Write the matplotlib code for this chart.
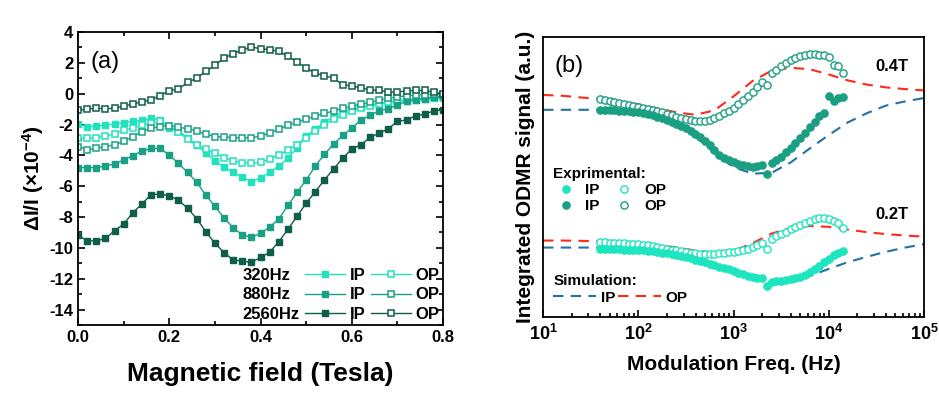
import matplotlib
matplotlib.use('Agg')
import matplotlib.pyplot as plt
from matplotlib.lines import Line2D
from matplotlib.ticker import MultipleLocator, LogLocator, NullFormatter, FixedLocator, FixedFormatter

plt.rcParams['font.family'] = ['Liberation Sans', 'DejaVu Sans']
plt.rcParams['mathtext.fontset'] = 'custom'
plt.rcParams['mathtext.rm'] = 'Liberation Sans:bold'
plt.rcParams['mathtext.bf'] = 'Liberation Sans:bold'
plt.rcParams['mathtext.it'] = 'Liberation Sans:bold:italic'
plt.rcParams['axes.unicode_minus'] = False

# ---- panel (a): dI/I vs field ----
field = [0.00, 0.02, 0.04, 0.06, 0.08, 0.10, 0.12, 0.14, 0.16, 0.18, 0.20,
         0.22, 0.24, 0.26, 0.28, 0.30, 0.32, 0.34, 0.36, 0.38, 0.40,
         0.42, 0.44, 0.46, 0.48, 0.50, 0.52, 0.54, 0.56, 0.58, 0.60,
         0.62, 0.64, 0.66, 0.68, 0.70, 0.72, 0.74, 0.76, 0.78, 0.80]

ip_320 = [-1.98, -2.15, -2.10, -2.05, -1.97, -1.88, -1.80, -1.72, -1.60, -1.70, -2.20,
          -2.40, -2.85, -3.35, -3.85, -4.35, -4.75, -5.10, -5.40, -5.72, -5.45,
          -5.10, -4.70, -4.20, -3.50, -2.75, -2.30, -1.85, -1.50, -1.20, -1.00,
          -0.87, -0.75, -0.65, -0.57, -0.50, -0.45, -0.40, -0.35, -0.30, -0.27]
op_320 = [-2.87, -2.90, -2.85, -2.75, -2.60, -2.38, -2.22, -2.05, -1.90, -1.80, -2.10,
          -2.50, -2.95, -3.35, -3.60, -3.85, -4.15, -4.38, -4.47, -4.50, -4.45,
          -4.25, -3.98, -3.65, -3.30, -2.85, -2.40, -2.00, -1.65, -1.40, -1.15,
          -0.95, -0.80, -0.65, -0.55, -0.45, -0.40, -0.35, -0.30, -0.25, -0.22]
ip_880 = [-4.79, -4.79, -4.79, -4.69, -4.56, -4.30, -4.02, -3.72, -3.55, -3.55, -3.98,
          -4.52, -5.10, -5.75, -6.57, -7.30, -8.05, -8.70, -9.15, -9.32, -9.06,
          -8.65, -8.13, -7.25, -6.40, -5.60, -4.70, -3.93, -3.28, -2.71, -2.24,
          -1.70, -1.41, -1.11, -0.98, -0.72, -0.50, -0.40, -0.33, -0.24, -0.18]
op_880 = [-3.43, -3.65, -3.54, -3.43, -3.32, -3.10, -2.78, -2.46, -2.24, -2.13, -2.07,
          -2.17, -2.28, -2.41, -2.63, -2.78, -2.80, -2.85, -2.89, -2.85, -2.75,
          -2.55, -2.30, -2.05, -1.85, -1.65, -1.45, -1.28, -1.12, -0.96, -0.80,
          -0.68, -0.55, -0.42, -0.30, -0.20, -0.14, -0.10, -0.06, -0.04, -0.05]
ip_2560 = [-9.17, -9.54, -9.54, -9.39, -8.89, -8.45, -7.72, -7.15, -6.55, -6.50, -6.63,
           -6.90, -7.43, -8.10, -8.95, -9.70, -10.30, -10.79, -10.85, -10.94, -10.62,
           -10.28, -9.60, -8.80, -7.95, -7.11, -6.35, -5.60, -4.88, -4.19, -3.58,
           -3.32, -2.84, -2.56, -2.28, -1.80, -1.70, -1.44, -1.33, -1.11, -1.05]
op_2560 = [-1.09, -1.00, -0.94, -0.98, -0.94, -0.81, -0.67, -0.53, -0.40, -0.13, 0.20,
           0.30, 0.73, 1.01, 1.44, 1.83, 2.31, 2.59, 2.85, 3.02, 2.92,
           2.85, 2.74, 2.42, 2.07, 1.66, 1.34, 1.16, 1.01, 0.58, 0.51,
           0.36, 0.25, 0.21, 0.10, 0.10, 0.19, 0.21, 0.21, 0.10, -0.01]

freq_labels = ['320Hz', '880Hz', '2560Hz']
c_320, c_880, c_2560 = '#22e2bd', '#1aa185', '#0e5e49'

# ---- panel (b): integrated ODMR vs modulation frequency ----
freq_exp = [40, 45, 50, 56, 63, 71, 79, 89,
            100, 112, 126, 141, 158, 178, 200, 224, 251, 282,
            316, 355, 398, 447, 501, 562, 631, 708, 794, 891,
            1000, 1122, 1259, 1413, 1585, 1778, 1995, 2239, 2512, 2818,
            3162, 3548, 3981, 4467, 5012, 5623, 6310, 7079, 7943, 8913,
            10000, 11220, 12589, 14125]

ip_04 = [7.39, 7.39, 7.38, 7.38, 7.37, 7.36, 7.35, 7.33,
         7.31, 7.28, 7.25, 7.20, 7.15, 7.10, 7.04, 6.98, 6.90, 6.82,
         6.75, 6.66, 6.55, 6.42, 6.30, 6.15, 5.98, 5.80, 5.68, 5.60,
         5.52, 5.47, 5.42, 5.40, 5.37, 5.38, 5.42, 5.11, 5.51, 5.60,
         5.72, 5.88, 6.05, 6.22, 6.40, 6.58, 6.78, 6.97, 7.18, 7.30,
         7.90, 7.72, 7.81, 7.87]
op_04 = [7.78, 7.74, 7.71, 7.68, 7.65, 7.61, 7.57, 7.53,
         7.49, 7.46, 7.42, 7.39, 7.35, 7.31, 7.26, 7.20, 7.15, 7.10,
         7.06, 7.03, 7.00, 6.99, 7.01, 7.05, 7.11, 7.19, 7.27, 7.36,
         7.46, 7.60, 7.75, 7.90, 8.04, 8.20, 8.38, 8.30, 8.70, 8.82,
         8.97, 9.08, 9.17, 9.25, 9.31, 9.35, 9.38, 9.38, 9.37, 9.35,
         9.30, 9.00, 8.98, 8.72]
ip_02 = [2.44, 2.43, 2.43, 2.42, 2.42, 2.41, 2.41, 2.40,
         2.39, 2.38, 2.36, 2.34, 2.32, 2.30, 2.27, 2.24, 2.21, 2.17,
         2.13, 2.09, 2.05, 2.00, 1.95, 1.90, 1.85, 1.80, 1.75, 1.70,
         1.64, 1.58, 1.52, 1.47, 1.42, 1.40, 1.38, 1.11, 1.25, 1.27,
         1.29, 1.31, 1.34, 1.38, 1.43, 1.50, 1.60, 1.70, 1.83, 1.95,
         2.07, 2.20, 2.30, 2.36]
op_02 = [2.67, 2.69, 2.66, 2.65, 2.64, 2.63, 2.62, 2.61,
         2.60, 2.58, 2.56, 2.53, 2.50, 2.47, 2.44, 2.41, 2.38, 2.35,
         2.32, 2.29, 2.27, 2.25, 2.24, 2.24, 2.25, 2.27, 2.29, 2.31,
         2.33, 2.35, 2.39, 2.44, 2.50, 2.57, 2.66, 2.43, 2.80, 2.88,
         2.97, 3.05, 3.14, 3.22, 3.30, 3.37, 3.44, 3.50, 3.52, 3.52,
         3.50, 3.42, 3.34, 3.18]

freq_sim = [10, 16, 25, 40, 63, 100, 158, 251, 398, 631, 1000,
            1585, 2512, 3981, 6310, 10000, 15849, 25119, 39811, 63096, 100000]
sim_ip_04 = [7.40, 7.40, 7.40, 7.40, 7.39, 7.35, 7.20, 6.90, 6.45, 5.85, 5.35,
             5.12, 5.15, 5.52, 6.02, 6.50, 6.95, 7.28, 7.55, 7.70, 7.82]
sim_op_04 = [7.93, 7.90, 7.84, 7.78, 7.70, 7.60, 7.45, 7.31, 7.22, 7.38, 7.88,
             8.43, 8.80, 8.90, 8.85, 8.66, 8.45, 8.30, 8.20, 8.14, 8.09]
sim_ip_02 = [2.48, 2.48, 2.48, 2.48, 2.47, 2.45, 2.40, 2.28, 2.12, 1.88, 1.58,
             1.33, 1.22, 1.28, 1.46, 1.72, 1.96, 2.15, 2.33, 2.48, 2.60]
sim_op_02 = [2.73, 2.73, 2.72, 2.70, 2.66, 2.62, 2.56, 2.49, 2.37, 2.30, 2.36,
             2.64, 2.98, 3.18, 3.25, 3.22, 3.12, 3.03, 2.96, 2.91, 2.87]

c_04, c_02 = '#1a9f83', '#1de5bf'
c_red, c_blue = '#ff2a1a', '#2371a8'

fig = plt.figure(figsize=(9.39, 3.99), dpi=100)
ax1 = fig.add_axes([0.0831, 0.1855, 0.3887, 0.7343])
ax2 = fig.add_axes([0.5783, 0.2055, 0.4058, 0.7018])

# panel a
ms = 4.3
series = [(ip_320, op_320, c_320), (ip_880, op_880, c_880), (ip_2560, op_2560, c_2560)]
ip_handles, op_handles = [], []
for ip, op, c in series:
    h1, = ax1.plot(field, ip, '-s', color=c, lw=1.0, ms=ms, mfc=c, mec=c)
    h2, = ax1.plot(field, op, '-s', color=c, lw=1.0, ms=ms, mfc='white', mec=c, mew=1.1)
    ip_handles.append(h1)
    op_handles.append(h2)

ax1.set_xlim(0, 0.8)
ax1.set_ylim(-15, 4)
ax1.set_xticks([0.0, 0.2, 0.4, 0.6, 0.8])
ax1.set_xticklabels(['0.0', '0.2', '0.4', '0.6', '0.8'])
ax1.xaxis.set_minor_locator(MultipleLocator(0.1))
ax1.set_yticks([4, 2, 0, -2, -4, -6, -8, -10, -12, -14])
ax1.yaxis.set_minor_locator(MultipleLocator(1))
ax1.tick_params(which='both', direction='in', top=True, right=True, width=1.2)
ax1.tick_params(which='major', length=5, labelsize=12)
ax1.tick_params(which='minor', length=3)
for lab in ax1.get_xticklabels() + ax1.get_yticklabels():
    lab.set_fontweight('bold')
for sp in ax1.spines.values():
    sp.set_linewidth(1.3)
ax1.set_xlabel('Magnetic field (Tesla)', fontsize=19, fontweight='bold', labelpad=12)
ax1.set_ylabel(r'ΔI/I (×10$^{-4}$)', fontsize=15, fontweight='bold', labelpad=2)
ax1.text(0.035, 0.935, '(a)', transform=ax1.transAxes, fontsize=17, va='top')

blank = [Line2D([], [], linestyle='none') for _ in freq_labels]
ax1.legend(blank + ip_handles + op_handles,
           freq_labels + ['IP'] * 3 + ['OP'] * 3,
           ncol=3, loc='lower right', frameon=False,
           prop={'weight': 'bold', 'size': 12}, handlelength=2.4,
           handletextpad=0.3, columnspacing=0.3, labelspacing=0.25,
           borderaxespad=0.1, borderpad=0.1)

# panel b
ms2 = 5.2
dash = (0, (5, 3.5))
ax2.plot(freq_sim, sim_ip_04, color=c_blue, lw=1.5, ls=dash)
ax2.plot(freq_sim, sim_op_04, color=c_red, lw=1.5, ls=dash)
ax2.plot(freq_sim, sim_ip_02, color=c_blue, lw=1.5, ls=dash)
ax2.plot(freq_sim, sim_op_02, color=c_red, lw=1.5, ls=dash)
ax2.plot(freq_exp, op_04, 'o', ms=ms2, mfc='white', mec=c_04, mew=1.0, ls='none')
ax2.plot(freq_exp, ip_04, 'o', ms=ms2, mfc=c_04, mec=c_04, ls='none')
ax2.plot(freq_exp, op_02, 'o', ms=ms2, mfc='white', mec=c_02, mew=1.0, ls='none')
ax2.plot(freq_exp, ip_02, 'o', ms=ms2, mfc=c_02, mec=c_02, ls='none')

ax2.set_xscale('log')
ax2.set_xlim(10, 1e5)
ax2.set_ylim(0, 10)
ax2.set_yticks([])
ax2.xaxis.set_major_locator(FixedLocator([10, 100, 1000, 10000, 100000]))
ax2.xaxis.set_major_formatter(FixedFormatter([r'$10^{1}$', r'$10^{2}$', r'$10^{3}$',
                                              r'$10^{4}$', r'$10^{5}$']))
ax2.xaxis.set_minor_locator(LogLocator(base=10, subs=range(2, 10), numticks=20))
ax2.xaxis.set_minor_formatter(NullFormatter())
ax2.tick_params(which='both', direction='in', width=1.2)
ax2.tick_params(which='major', length=5, labelsize=13, pad=5)
ax2.tick_params(which='minor', length=3)
for sp in ax2.spines.values():
    sp.set_linewidth(1.3)
ax2.set_xlabel('Modulation Freq. (Hz)', fontsize=15, fontweight='bold', labelpad=8)
ax2.set_ylabel('Integrated ODMR signal (a.u.)', fontsize=15, fontweight='bold', labelpad=6)
ax2.text(0.03, 0.935, '(b)', transform=ax2.transAxes, fontsize=17, va='top')
ax2.text(0.915, 0.88, '0.4T', transform=ax2.transAxes, fontsize=12, fontweight='bold', ha='center')
ax2.text(0.915, 0.35, '0.2T', transform=ax2.transAxes, fontsize=12, fontweight='bold', ha='center')

ex_ip_a = Line2D([], [], marker='o', ls='none', ms=ms2, mfc=c_02, mec=c_02)
ex_ip_b = Line2D([], [], marker='o', ls='none', ms=ms2, mfc=c_04, mec=c_04)
ex_op_a = Line2D([], [], marker='o', ls='none', ms=ms2, mfc='white', mec=c_02)
ex_op_b = Line2D([], [], marker='o', ls='none', ms=ms2, mfc='white', mec=c_04)
leg_exp = ax2.legend([ex_ip_a, ex_ip_b, ex_op_a, ex_op_b], ['IP', 'IP', 'OP', 'OP'],
                     ncol=2, loc='upper left', bbox_to_anchor=(-0.005, 0.58),
                     frameon=False, title='Exprimental:', alignment='left',
                     prop={'weight': 'bold', 'size': 11}, handlelength=1.6,
                     handletextpad=0.5, columnspacing=0.8, labelspacing=0.15,
                     borderpad=0.3, title_fontproperties={'weight': 'bold', 'size': 11})
ax2.add_artist(leg_exp)

sim_ip = Line2D([], [], color=c_blue, lw=1.5, ls=dash)
sim_op = Line2D([], [], color=c_red, lw=1.5, ls=dash)
ax2.legend([sim_ip, sim_op], ['IP', 'OP'], ncol=2, loc='lower left',
           bbox_to_anchor=(-0.005, 0.0), frameon=False, title='Simulation:',
           alignment='left', prop={'weight': 'bold', 'size': 11}, handlelength=2.8,
           handletextpad=0.3, columnspacing=0.2, labelspacing=0.15, borderpad=0.3,
           title_fontproperties={'weight': 'bold', 'size': 11})

fig.savefig('out.png', dpi=100)
